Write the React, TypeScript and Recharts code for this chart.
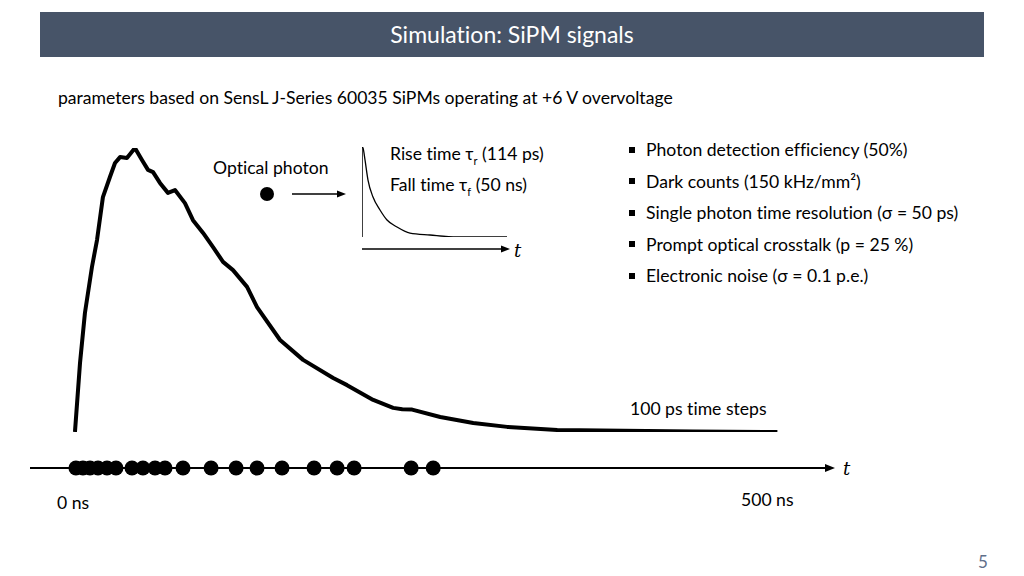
import { Line, LineChart, ReferenceLine, Scatter, ScatterChart, XAxis, YAxis } from 'recharts'

// simulated SiPM output (ns, normalised amplitude)
const signalTime = [
  0, 3.6, 7.1, 12.1, 15.7, 19.9, 24.9, 28.5, 32.1, 37.0, 42.7, 47.7, 52.0, 55.6, 60.5, 66.2, 71.2,
  78.3, 84.0, 91.2, 98.3, 105.4, 112.5, 122.5, 129.6, 146.0, 162.4, 183.8, 193.7, 212.3, 226.5,
  233.0, 240.0, 260.0, 283.5, 307.7, 343.3, 390.3, 440.0, 500.0,
]
const signalAmp = [
  0, 0.243, 0.419, 0.581, 0.676, 0.827, 0.898, 0.947, 0.968, 0.965, 1.0, 0.958, 0.923, 0.915, 0.877,
  0.842, 0.852, 0.806, 0.746, 0.701, 0.651, 0.599, 0.57, 0.511, 0.44, 0.324, 0.254, 0.19, 0.165,
  0.113, 0.085, 0.08, 0.079, 0.053, 0.032, 0.018, 0.007, 0.004, 0.002, 0,
]

// photon arrival times (ns)
const photonTimes = [
  0.7, 5.7, 10.7, 16.4, 22.8, 29.2, 40.6, 48.4, 57.0, 64.1, 76.9, 96.9, 114.7, 129.6, 147.4, 170.2,
  186.6, 198.7, 239.3, 255.0,
]

// single photon response sketch (arbitrary units)
const pulseTime = [0, 0.1, 0.3, 0.6, 1.1, 1.8, 2.5, 3.5, 4.8, 6.8, 9.5, 14.5]
const pulseAmp = [1, 0.989, 0.856, 0.633, 0.444, 0.3, 0.189, 0.111, 0.044, 0.022, 0, 0]

const bullets = [
  'Photon detection efficiency (50%)',
  'Dark counts (150 kHz/mm²)',
  'Single photon time resolution (σ = 50 ps)',
  'Prompt optical crosstalk (p = 25 %)',
  'Electronic noise (σ = 0.1 p.e.)',
]

const X_DOMAIN: [number, number] = [-32, 541]
const FONT = 'Lato, "Open Sans", sans-serif'
const FS = 17.6

const signal = signalTime.map((t, i) => ({ t, a: signalAmp[i] }))
const photons = photonTimes.map((t) => ({ t, y: 0 }))
const pulse = pulseTime.map((t, i) => ({ t, a: pulseAmp[i] }))

const txt = (left: number, center: number, size = FS, extra: React.CSSProperties = {}) =>
  ({
    position: 'absolute',
    left,
    top: center - (size + 4) / 2,
    fontSize: size,
    lineHeight: `${size + 4}px`,
    whiteSpace: 'nowrap',
    color: '#000',
    ...extra,
  }) as React.CSSProperties

const sub = { fontSize: 11, verticalAlign: 'sub' } as React.CSSProperties
const italicT = { fontFamily: '"DejaVu Serif", serif', fontStyle: 'italic' } as React.CSSProperties

function ArrowLine(p: any) {
  const y = p.y1
  return (
    <g>
      <line x1={p.x1} y1={y} x2={p.x2 - 8} y2={y} stroke="#000" strokeWidth={2} />
      <polygon points={`${p.x2},${y} ${p.x2 - 10},${y - 4} ${p.x2 - 10},${y + 4}`} fill="#000" />
    </g>
  )
}

const PhotonDot = (p: any) => <circle cx={p.cx} cy={p.cy} r={7.5} fill="#000" />

export default function App() {
  return (
    <div
      style={{
        position: 'absolute',
        left: 0,
        top: 0,
        width: 1024,
        height: 576,
        background: '#fff',
        overflow: 'hidden',
        fontFamily: FONT,
        fontVariantLigatures: 'none',
      }}
    >
      <div
        style={{
          position: 'absolute',
          left: 40,
          top: 12,
          width: 944,
          height: 45,
          background: '#475468',
          color: '#fff',
          fontSize: 23,
          lineHeight: '45px',
          textAlign: 'center',
        }}
      >
        Simulation: SiPM signals
      </div>

      <div style={txt(58, 98)}>
        parameters based on SensL J-Series 60035 SiPMs operating at +6 V overvoltage
      </div>

      {/* main simulated signal */}
      <div style={{ position: 'absolute', left: 0, top: 0 }}>
        <LineChart
          width={1024}
          height={576}
          data={signal}
          margin={{ top: 148, right: 189, bottom: 144, left: 30 }}
        >
          <XAxis type="number" dataKey="t" domain={X_DOMAIN} allowDataOverflow hide />
          <YAxis type="number" domain={[0, 1]} allowDataOverflow hide />
          <Line
            dataKey="a"
            type="linear"
            stroke="#000"
            strokeWidth={4}
            strokeLinejoin="round"
            dot={false}
            isAnimationActive={false}
          />
        </LineChart>
      </div>

      {/* photon arrival timeline */}
      <div style={{ position: 'absolute', left: 0, top: 440 }}>
        <ScatterChart width={1024} height={56} margin={{ top: 14, right: 189, bottom: 14, left: 30 }}>
          <XAxis type="number" dataKey="t" domain={X_DOMAIN} allowDataOverflow hide />
          <YAxis type="number" dataKey="y" domain={[-1, 1]} allowDataOverflow hide />
          <ReferenceLine y={0} stroke="#000" strokeWidth={2} shape={ArrowLine} />
          <Scatter data={photons} fill="#000" shape={PhotonDot} isAnimationActive={false} />
        </ScatterChart>
      </div>

      {/* single photon pulse inset */}
      <div style={{ position: 'absolute', left: 362, top: 147 }}>
        <LineChart width={150} height={90} data={pulse} margin={{ top: 0, right: 0, bottom: 0, left: 0 }}>
          <XAxis type="number" dataKey="t" domain={[0, 15]} allowDataOverflow hide />
          <YAxis type="number" domain={[0, 1]} allowDataOverflow hide />
          <ReferenceLine x={0} stroke="#000" strokeWidth={1.5} />
          <Line
            dataKey="a"
            type="monotone"
            stroke="#000"
            strokeWidth={1.3}
            dot={false}
            isAnimationActive={false}
          />
        </LineChart>
      </div>

      <svg width={1024} height={576} style={{ position: 'absolute', left: 0, top: 0 }}>
        <circle cx={267} cy={194} r={7} fill="#000" />
        <line x1={292} y1={194} x2={338} y2={194} stroke="#000" strokeWidth={1.5} />
        <polygon points="346,194 337,190.5 337,197.5" fill="#000" />
        <line x1={362} y1={249} x2={502} y2={249} stroke="#000" strokeWidth={1.5} />
        <polygon points="510,249 501,245.5 501,252.5" fill="#000" />
      </svg>

      <div style={txt(213, 168)}>Optical photon</div>
      <div style={txt(390, 154)}>
        Rise time τ<span style={sub}>r</span> (114 ps)
      </div>
      <div style={txt(390, 185)}>
        Fall time τ<span style={sub}>f</span> (50 ns)
      </div>
      <div style={txt(514, 251, 18, italicT)}>t</div>
      <div style={txt(843, 469, 18, italicT)}>t</div>

      {bullets.map((b, i) => (
        <div key={b} style={txt(629, 150 + i * 31.5)}>
          <span
            style={{
              display: 'inline-block',
              width: 6,
              height: 6,
              background: '#000',
              marginRight: 11,
              verticalAlign: 'middle',
              position: 'relative',
              top: -2,
            }}
          />
          {b}
        </div>
      ))}

      <div style={txt(630, 409)}>100 ps time steps</div>
      <div style={txt(57, 503)}>0 ns</div>
      <div style={txt(741, 500)}>500 ns</div>
      <div style={txt(978, 561, 17, { color: '#5f6f8a' })}>5</div>
    </div>
  )
}
